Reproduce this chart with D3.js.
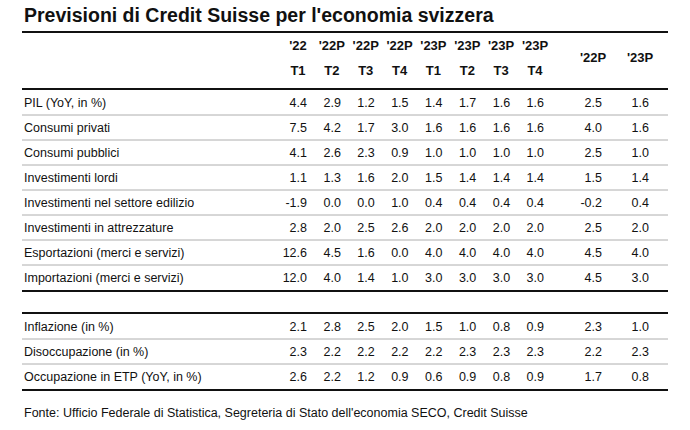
<!DOCTYPE html>
<html><head><meta charset="utf-8">
<script src="https://cdn.jsdelivr.net/npm/d3@7"></script>
<style>body{margin:0;background:#fff}text{font-family:"Liberation Sans Narrow","Liberation Sans",Arial,sans-serif}</style>
</head><body><svg id="c" width="690" height="430"></svg>
<script>
const colTop = ["'22", "'22P", "'22P", "'22P", "'23P", "'23P", "'23P", "'23P"];
const colBottom = ["T1", "T2", "T3", "T4", "T1", "T2", "T3", "T4"];
const annual = ["'22P", "'23P"];
const labels1 = ["PIL (YoY, in %)", "Consumi privati", "Consumi pubblici", "Investimenti lordi", "Investimenti nel settore edilizio", "Investimenti in attrezzature", "Esportazioni (merci e servizi)", "Importazioni (merci e servizi)"];
const values1 = [
	["4.4","2.9","1.2","1.5","1.4","1.7","1.6","1.6","2.5","1.6"],
	["7.5","4.2","1.7","3.0","1.6","1.6","1.6","1.6","4.0","1.6"],
	["4.1","2.6","2.3","0.9","1.0","1.0","1.0","1.0","2.5","1.0"],
	["1.1","1.3","1.6","2.0","1.5","1.4","1.4","1.4","1.5","1.4"],
	["-1.9","0.0","0.0","1.0","0.4","0.4","0.4","0.4","-0.2","0.4"],
	["2.8","2.0","2.5","2.6","2.0","2.0","2.0","2.0","2.5","2.0"],
	["12.6","4.5","1.6","0.0","4.0","4.0","4.0","4.0","4.5","4.0"],
	["12.0","4.0","1.4","1.0","3.0","3.0","3.0","3.0","4.5","3.0"]
];
const labels2 = ["Inflazione (in %)", "Disoccupazione (in %)", "Occupazione in ETP (YoY, in %)"];
const values2 = [
	["2.1","2.8","2.5","2.0","1.5","1.0","0.8","0.9","2.3","1.0"],
	["2.3","2.2","2.2","2.2","2.2","2.3","2.3","2.3","2.2","2.3"],
	["2.6","2.2","1.2","0.9","0.6","0.9","0.8","0.9","1.7","0.8"]
];

const svg = d3.select('#c');
const L = 22, R = 668;
// quarterly columns then two annual columns
const xq = d3.scalePoint().domain(d3.range(8)).range([298, 535]);
const xa = d3.scalePoint().domain([0, 1]).range([593, 640]);
const xCol = (i) => i < 8 ? xq(i) : xa(i - 8);

svg.append('text').attr('x', L + 2).attr('y', 22)
	.attr('font-size', 19.5).attr('font-weight', 'bold').attr('fill', '#111')
	.text("Previsioni di Credit Suisse per l'economia svizzera");

const thick = (y) => svg.append('line').attr('x1', L).attr('x2', R).attr('y1', y).attr('y2', y)
	.attr('stroke', '#111').attr('stroke-width', 2);
const thin = (y) => svg.append('line').attr('x1', L).attr('x2', R).attr('y1', y).attr('y2', y)
	.attr('stroke', '#999').attr('stroke-width', 0.8);

thick(32);
const head = svg.append('g').attr('font-size', 13).attr('font-weight', 'bold').attr('text-anchor', 'middle').attr('fill', '#111');
colTop.forEach((t, i) => head.append('text').attr('x', xq(i)).attr('y', 50).text(t));
colBottom.forEach((t, i) => head.append('text').attr('x', xq(i)).attr('y', 75).text(t));
annual.forEach((t, i) => head.append('text').attr('x', xa(i)).attr('y', 62).text(t));
thick(89);

function block(labels, values, y0, y1) {
	const y = d3.scaleBand().domain(d3.range(labels.length)).range([y0, y1]);
	const g = svg.append('g').attr('font-size', 12.5).attr('fill', '#111');
	labels.forEach((lab, r) => {
		const cy = y(r) + y.bandwidth() / 2 + 4.5;
		g.append('text').attr('x', L + 2).attr('y', cy).attr('textLength', null).text(lab);
		values[r].forEach((v, c) => {
			g.append('text').attr('x', xCol(c) + 9).attr('y', cy).attr('text-anchor', 'end').text(v);
		});
		if (r < labels.length - 1) thin(y(r) + y.bandwidth());
	});
}
block(labels1, values1, 90, 290);
thick(291);
thick(313);
block(labels2, values2, 314, 389);
thick(390);

svg.append('text').attr('x', L + 2).attr('y', 417).attr('font-size', 12.5).attr('fill', '#111')
	.text("Fonte: Ufficio Federale di Statistica, Segreteria di Stato dell'economia SECO, Credit Suisse");
</script></body></html>
